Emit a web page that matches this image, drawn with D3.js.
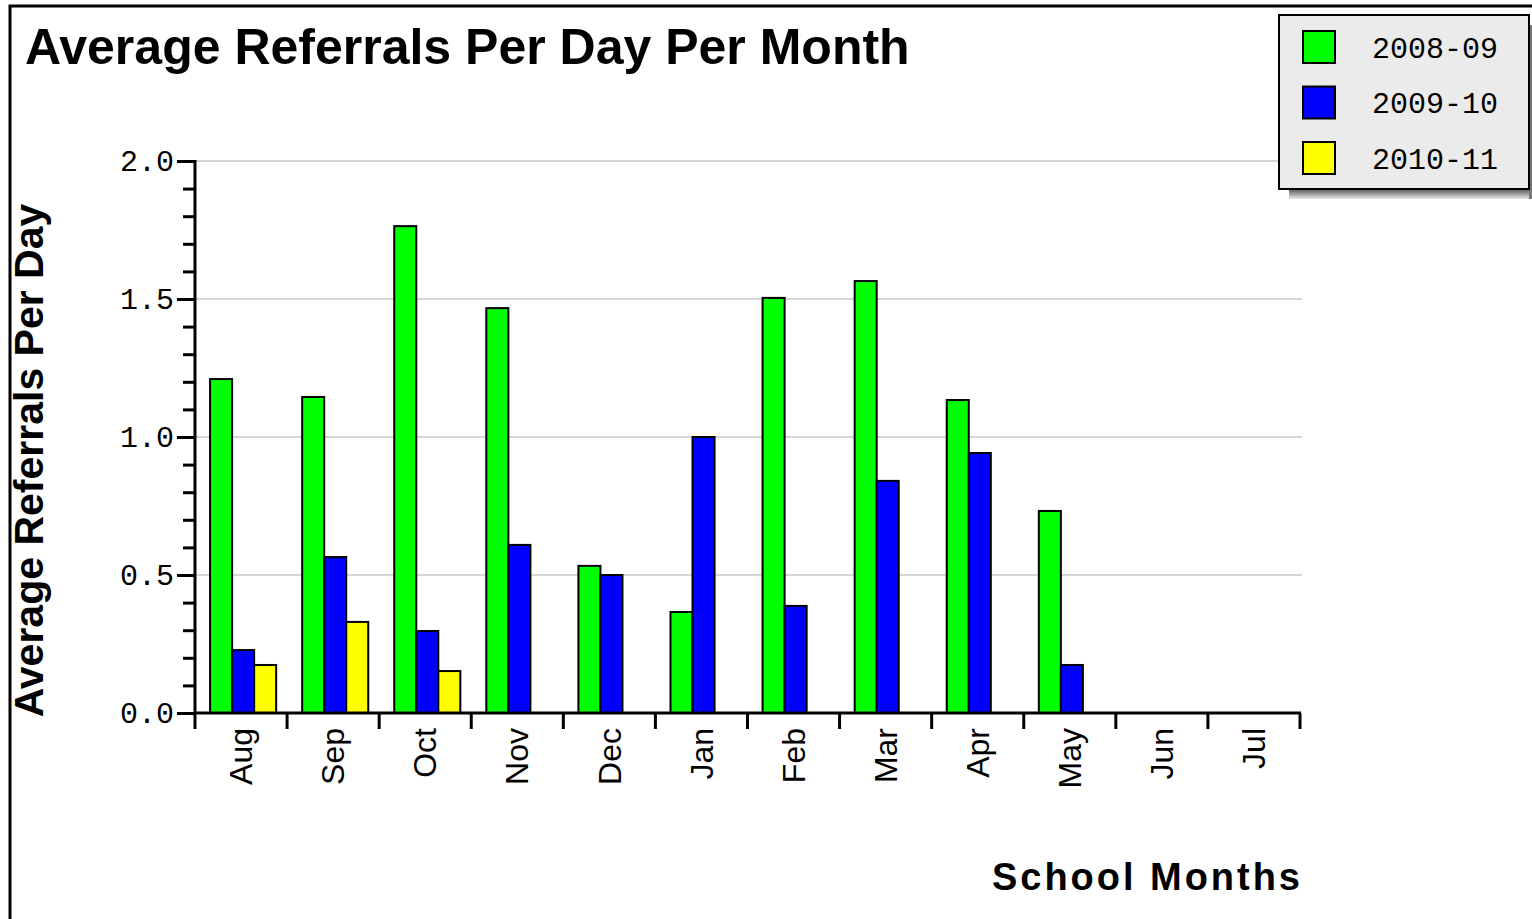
<!DOCTYPE html>
<html>
<head>
<meta charset="utf-8">
<script src="https://cdnjs.cloudflare.com/ajax/libs/d3/7.8.5/d3.min.js"></script>
<style>
  html, body { margin: 0; padding: 0; background: #fff; }
  svg { display: block; }
</style>
</head>
<body>
<svg id="chart" width="1532" height="919"></svg>
<script>
// ---- data ----
const months = ["Aug","Sep","Oct","Nov","Dec","Jan","Feb","Mar","Apr","May","Jun","Jul"];
const seriesNames = ["2008-09","2009-10","2010-11"];
const values2008 = [1.21, 1.145, 1.764, 1.467, 0.533, 0.366, 1.504, 1.565, 1.134, 0.732, null, null];
const values2009 = [0.228, 0.565, 0.297, 0.609, 0.5, 1.0, 0.388, 0.841, 0.942, 0.174, null, null];
const values2010 = [0.174, 0.33, 0.152, null, null, null, null, null, null, null, null, null];
const yMajorTicks = [0, 0.5, 1.0, 1.5, 2.0];
const seriesColors = ["#00ff00", "#0000ff", "#ffff00"];
const titleText = "Average Referrals Per Day Per Month";
const yTitle = "Average Referrals Per Day";
const xTitle = "School Months";

(function () {
const seriesValues = [values2008, values2009, values2010];

const svg = d3.select("#chart");

// outer frame
svg.append("rect")
  .attr("x", 10).attr("y", 6)
  .attr("width", 1600).attr("height", 1000)
  .attr("fill", "#fff").attr("stroke", "#000").attr("stroke-width", 3);

// scales
const pLeft = 195, pRight = 1300, pTop = 161, pBottom = 713;
const x0 = d3.scaleBand().domain(months).range([pLeft, pRight]).paddingInner(0).paddingOuter(0);
const x1 = d3.scaleBand().domain(seriesNames).range([0, x0.bandwidth()]).paddingInner(0).paddingOuter(0.59).align(0.58);
const y = d3.scaleLinear().domain([0, 2]).range([pBottom, pTop]);

// gridlines
svg.append("g").selectAll("line")
  .data(yMajorTicks.filter(d => d > 0))
  .join("line")
  .attr("x1", pLeft).attr("x2", pRight + 2)
  .attr("y1", d => y(d)).attr("y2", d => y(d))
  .attr("stroke", "#d6d6d6").attr("stroke-width", 2);

// bars
const barData = [];
months.forEach((m, i) => {
  seriesNames.forEach((s, j) => {
    const v = seriesValues[j][i];
    if (v != null) barData.push({ m, s, v, c: seriesColors[j] });
  });
});
svg.append("g").selectAll("rect")
  .data(barData)
  .join("rect")
  .attr("x", d => x0(d.m) + x1(d.s))
  .attr("y", d => y(d.v))
  .attr("width", x1.bandwidth())
  .attr("height", d => pBottom - y(d.v))
  .attr("fill", d => d.c)
  .attr("stroke", "#000")
  .attr("stroke-width", 2);

// y axis minor ticks
const minorTicks = d3.range(0, 21).map(d => d / 10).filter(d => Math.round(d * 10) % 5 !== 0);
const yMinor = d3.axisLeft(y).tickValues(minorTicks).tickSize(12).tickFormat("");
const gMinor = svg.append("g").attr("transform", `translate(${pLeft},0)`).call(yMinor);
gMinor.select(".domain").remove();
gMinor.selectAll("line").attr("stroke", "#000").attr("stroke-width", 3);

// y axis major
const yAxis = d3.axisLeft(y).tickValues(yMajorTicks).tickSize(18).tickPadding(3).tickFormat(d3.format(".1f"));
const gy = svg.append("g").attr("transform", `translate(${pLeft},0)`).call(yAxis);
gy.select(".domain").attr("stroke", "#000").attr("stroke-width", 3).attr("d", `M0,${pTop - 1}V${pBottom + 1}`);
gy.selectAll("line").attr("stroke", "#000").attr("stroke-width", 3);
gy.selectAll("text")
  .attr("font-family", "'Liberation Mono', 'DejaVu Sans Mono', monospace")
  .attr("font-size", 30).attr("fill", "#000");

// x axis line
svg.append("line")
  .attr("x1", pLeft - 1).attr("x2", pRight + 1)
  .attr("y1", pBottom).attr("y2", pBottom)
  .attr("stroke", "#000").attr("stroke-width", 3);

// x boundary ticks
const boundaries = months.map(m => x0(m)).concat([pRight]);
svg.append("g").selectAll("line")
  .data(boundaries)
  .join("line")
  .attr("x1", d => d).attr("x2", d => d)
  .attr("y1", pBottom).attr("y2", pBottom + 16)
  .attr("stroke", "#000").attr("stroke-width", 3);

// x labels (rotated)
svg.append("g").selectAll("text")
  .data(months)
  .join("text")
  .attr("transform", d => `translate(${x0(d) + x0.bandwidth() / 2},${pBottom + 15}) rotate(-90)`)
  .attr("text-anchor", "end")
  .attr("dy", "0.35em")
  .attr("font-family", "'Liberation Sans', Arial, sans-serif")
  .attr("font-size", 32)
  .attr("fill", "#000")
  .text(d => d);

// title
svg.append("text")
  .attr("x", 25).attr("y", 64)
  .attr("font-family", "'Liberation Sans', Arial, sans-serif")
  .attr("font-weight", "bold").attr("font-size", 50)
  .attr("fill", "#000")
  .text(titleText);

// y title
svg.append("text")
  .attr("transform", `translate(43,${(205 + 716) / 2}) rotate(-90)`)
  .attr("text-anchor", "middle")
  .attr("font-family", "'Liberation Sans', Arial, sans-serif")
  .attr("font-weight", "bold").attr("font-size", 41)
  .attr("fill", "#000")
  .text(yTitle);

// x title
svg.append("text")
  .attr("x", 992).attr("y", 890)
  .attr("font-family", "'Liberation Sans', Arial, sans-serif")
  .attr("font-weight", "bold").attr("font-size", 38)
  .attr("textLength", 308).attr("lengthAdjust", "spacing")
  .attr("fill", "#000")
  .text(xTitle);

// legend
const defs = svg.append("defs");
const grad = defs.append("linearGradient").attr("id", "shadowGrad").attr("x1", 0).attr("x2", 0).attr("y1", 0).attr("y2", 1);
grad.append("stop").attr("offset", "0%").attr("stop-color", "#555");
grad.append("stop").attr("offset", "100%").attr("stop-color", "#e8e8e8");

const lg = svg.append("g");
const lx = 1279, ly = 15, lw = 250, lh = 174;
lg.append("rect").attr("x", lx + 10).attr("y", ly + lh).attr("width", lw - 8).attr("height", 10).attr("fill", "url(#shadowGrad)");
lg.append("rect").attr("x", lx + lw).attr("y", ly + 10).attr("width", 3).attr("height", lh).attr("fill", "#777");
lg.append("rect").attr("x", lx).attr("y", ly).attr("width", lw).attr("height", lh)
  .attr("fill", "#ebebeb").attr("stroke", "#000").attr("stroke-width", 2);

const legendY = d3.scalePoint().domain(seriesNames).range([47, 158]);
const items = lg.selectAll("g.item").data(seriesNames).join("g").attr("class", "item");
items.append("rect")
  .attr("x", 1303).attr("y", d => legendY(d) - 16)
  .attr("width", 32).attr("height", 32)
  .attr("fill", (d, i) => seriesColors[i])
  .attr("stroke", "#000").attr("stroke-width", 2);
items.append("text")
  .attr("x", 1372).attr("y", d => legendY(d))
  .attr("dy", "0.35em")
  .attr("font-family", "'Liberation Mono', 'DejaVu Sans Mono', monospace")
  .attr("font-size", 30)
  .attr("fill", "#000")
  .text(d => d);
})();
</script>
</body>
</html>
